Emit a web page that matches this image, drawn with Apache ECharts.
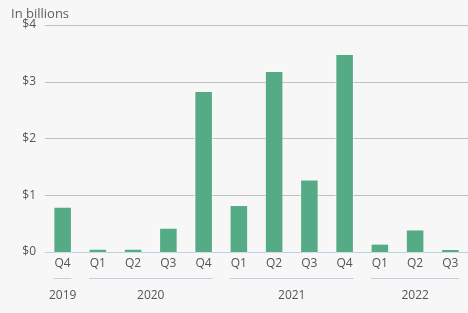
<!DOCTYPE html>
<html><head><meta charset="utf-8">
<script src="https://cdn.jsdelivr.net/npm/echarts@6/dist/echarts.min.js"></script>
<style>html,body{margin:0;padding:0;background:#f7f7f7}#c{width:468px;height:313px}</style>
</head><body><div id="c"></div>
<script>
var categories = ['Q4','Q1','Q2','Q3','Q4','Q1','Q2','Q3','Q4','Q1','Q2','Q3'];
var values = [0.78,0.04,0.04,0.41,2.82,0.81,3.17,1.26,3.47,0.13,0.38,0.02];
var yearLabels = ['2019','2020','2021','2022'];
var yearStart = [0,1,5,9];
var yearEnd = [0,4,8,11];
var yTicks = [0,1,2,3,4];

var font = 'Open Sans';
var chart = echarts.init(document.getElementById('c'));
var groups = yearLabels.map(function(y,i){return [yearStart[i], yearEnd[i], y];});
chart.setOption({
  backgroundColor:'#f7f7f7',
  animation:false,
  title:{text:'In billions',left:6,top:3,textStyle:{fontFamily:font,fontSize:13,fontWeight:'normal',color:'#606060'}},
  grid:{left:45,right:0,top:25,bottom:61},
  xAxis:{type:'category',data:categories,axisTick:{show:false},
    axisLine:{lineStyle:{color:'#bcd0e2',width:1}},
    axisLabel:{color:'#555',fontFamily:font,fontSize:12,margin:6}},
  yAxis:{type:'value',min:yTicks[0],max:yTicks[yTicks.length-1],interval:1,
    axisLabel:{formatter:'${value}',color:'#555',fontFamily:font,fontSize:12,margin:9},
    splitLine:{lineStyle:{color:'#c0c0c0',width:1}}},
  series:[{type:'bar',data:values,barWidth:'47%',barMinHeight:2,
    itemStyle:{color:'#55ab85',borderWidth:0,shadowColor:'#ffffff',shadowBlur:2}},
  {type:'custom',data:groups,clip:false,silent:true,
    encode:{x:[0,1]},
    renderItem:function(params,api){
      var s=api.value(0), e=api.value(1);
      var p0=api.coord([s,0]), p1=api.coord([e,0]);
      var bw=api.size([1,0])[0]*0.5;
      var y=Math.round(p0[1]+26)+0.5;
      var x0=p0[0]-bw/2, x1=p1[0]+bw/2;
      return {type:'group',children:[
        {type:'line',shape:{x1:x0,y1:y,x2:x1,y2:y},style:{stroke:'#bcd0e2',lineWidth:1}},
        {type:'text',style:{text:groups[params.dataIndex][2],x:(x0+x1)/2,y:y+17,align:'center',verticalAlign:'middle',fill:'#555',font:'12px "Open Sans"'}}
      ]};
    }}]
});
</script></body></html>
